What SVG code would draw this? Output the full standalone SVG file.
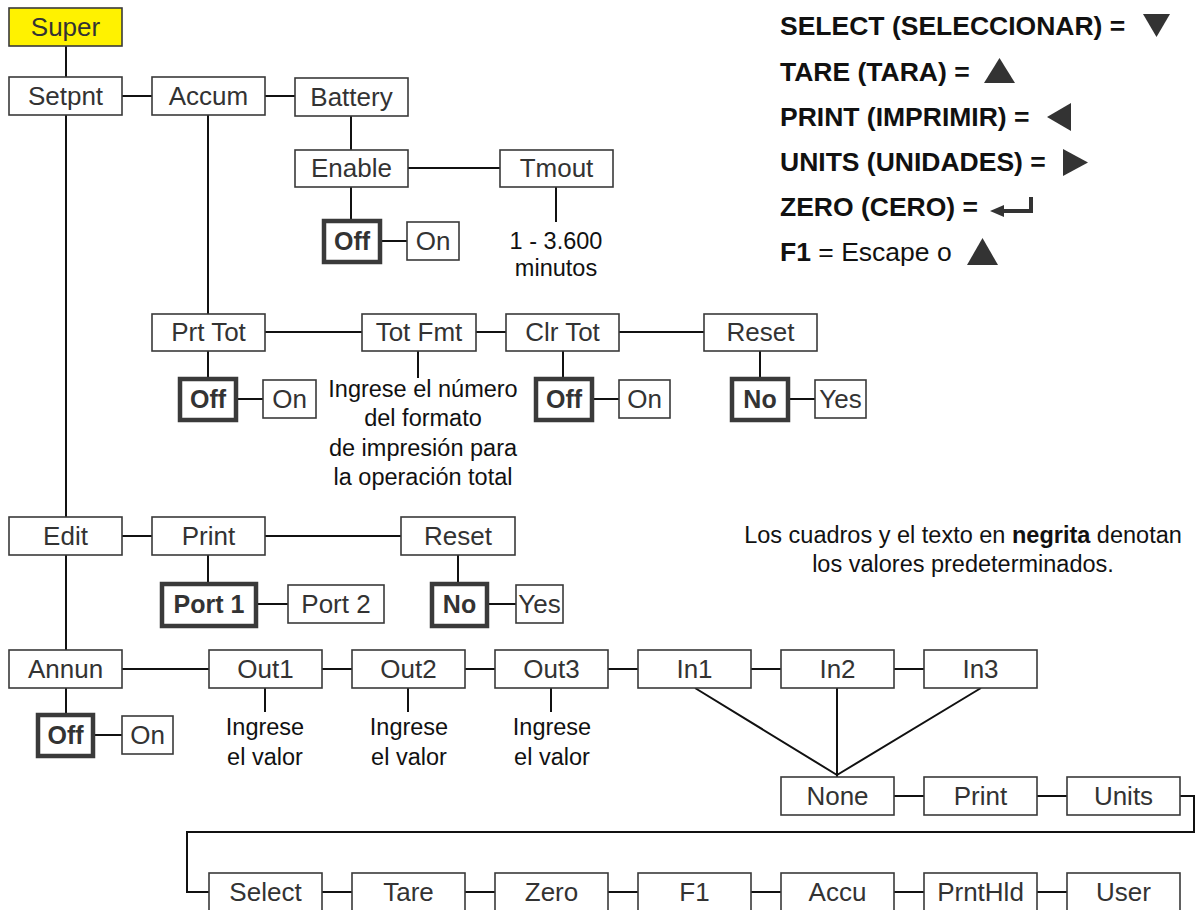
<svg xmlns="http://www.w3.org/2000/svg" width="1200" height="910" viewBox="0 0 1200 910">
<style>
.b{fill:#fff;stroke:#3a3a3a;stroke-width:1.6}
.d{fill:#fff;stroke:#3a3a3a;stroke-width:4.5}
.y{fill:#fff200;stroke:#3a3a3a;stroke-width:1.6}
.t{font-family:"Liberation Sans",Arial,sans-serif;font-size:26px;fill:#333;text-anchor:middle}
.tb{font-family:"Liberation Sans",Arial,sans-serif;font-size:25px;font-weight:bold;fill:#333;text-anchor:middle}
.a{font-family:"Liberation Sans",Arial,sans-serif;font-size:23.5px;fill:#111;text-anchor:middle}
.l{font-family:"Liberation Sans",Arial,sans-serif;font-size:26.5px;fill:#111;font-weight:bold}
.n{font-family:"Liberation Sans",Arial,sans-serif;font-size:23.5px;fill:#111;text-anchor:middle}
.c{fill:none;stroke:#111;stroke-width:2}
.k{fill:#333}
</style>
<g id="connectors" class="c">
<path d="M66 46V77M122 96H152M265 96H295M66 115V650"/>
<path d="M208 115V314M351 116V150M408 168H500M351 187V220M380 241H407M556 187V222"/>
<path d="M265 332H362M476 332H506M619 332H704M208 351V378M236 399H263M418 351V378M563 351V378M592 399H619M760 351V378M788 399H815"/>
<path d="M122 536H152M265 536H401M208 555V583M256 604H288M458 555V583M487 604H516"/>
<path d="M122 669H209M322 669H352M465 669H495M608 669H638M751 669H781M894 669H924M66 688V714M93 735H122M265 688V712M408 688V712M551 688V712"/>
<path d="M695 688L837 775M837 688V777M981 688L837 775M894 796H924M1037 796H1067M1180 796H1194V832H187V892H209"/>
<path d="M322 892H352M465 892H495M608 892H638M751 892H781M894 892H924M1037 892H1067"/>
</g>
<g id="super"><rect class="y" x="9" y="8" width="113" height="38"/><text class="t" x="65.5" y="36">Super</text></g>
<g id="setpnt"><rect class="b" x="9" y="77" width="113" height="38"/><text class="t" x="65.5" y="105">Setpnt</text></g>
<g id="accum"><rect class="b" x="152" y="77" width="113" height="38"/><text class="t" x="208.5" y="105">Accum</text></g>
<g id="battery"><rect class="b" x="295" y="78" width="113" height="38"/><text class="t" x="351.5" y="106">Battery</text></g>
<g id="enable"><rect class="b" x="295" y="150" width="113" height="37"/><text class="t" x="351.5" y="177">Enable</text></g>
<g id="tmout"><rect class="b" x="500" y="150" width="113" height="37"/><text class="t" x="556.5" y="177">Tmout</text></g>
<g id="en-off"><rect class="d" x="324" y="221" width="56" height="41"/><text class="tb" x="352" y="250">Off</text></g>
<g id="en-on"><rect class="b" x="407" y="222" width="52" height="38"/><text class="t" x="433" y="250">On</text></g>
<g id="tmout-val"><text class="a" x="556" y="249">1 - 3.600</text><text class="a" x="556" y="276">minutos</text></g>
<g id="prttot"><rect class="b" x="152" y="314" width="113" height="37"/><text class="t" x="208.5" y="341">Prt Tot</text></g>
<g id="totfmt"><rect class="b" x="362" y="314" width="114" height="37"/><text class="t" x="419" y="341">Tot Fmt</text></g>
<g id="clrtot"><rect class="b" x="506" y="314" width="113" height="37"/><text class="t" x="562.5" y="341">Clr Tot</text></g>
<g id="reset1"><rect class="b" x="704" y="314" width="113" height="37"/><text class="t" x="760.5" y="341">Reset</text></g>
<g id="pt-off"><rect class="d" x="180" y="379" width="56" height="41"/><text class="tb" x="208" y="408">Off</text></g>
<g id="pt-on"><rect class="b" x="263" y="380" width="53" height="38"/><text class="t" x="289.5" y="408">On</text></g>
<g id="totfmt-val"><text class="a" x="423" y="397">Ingrese el número</text><text class="a" x="423" y="426">del formato</text><text class="a" x="423" y="456">de impresión para</text><text class="a" x="423" y="485">la operación total</text></g>
<g id="ct-off"><rect class="d" x="536" y="379" width="56" height="41"/><text class="tb" x="564" y="408">Off</text></g>
<g id="ct-on"><rect class="b" x="619" y="380" width="51" height="38"/><text class="t" x="644.5" y="408">On</text></g>
<g id="r1-no"><rect class="d" x="732" y="379" width="56" height="41"/><text class="tb" x="760" y="408">No</text></g>
<g id="r1-yes"><rect class="b" x="815" y="380" width="51" height="38"/><text class="t" x="840.5" y="408">Yes</text></g>
<g id="edit"><rect class="b" x="9" y="517" width="113" height="38"/><text class="t" x="65.5" y="545">Edit</text></g>
<g id="print1"><rect class="b" x="152" y="517" width="113" height="38"/><text class="t" x="208.5" y="545">Print</text></g>
<g id="reset2"><rect class="b" x="401" y="517" width="114" height="38"/><text class="t" x="458" y="545">Reset</text></g>
<g id="port1"><rect class="d" x="162" y="584" width="94" height="42"/><text class="tb" x="209" y="613">Port 1</text></g>
<g id="port2"><rect class="b" x="288" y="585" width="96" height="38"/><text class="t" x="336" y="613">Port 2</text></g>
<g id="r2-no"><rect class="d" x="432" y="584" width="55" height="42"/><text class="tb" x="459.5" y="613">No</text></g>
<g id="r2-yes"><rect class="b" x="516" y="585" width="47" height="38"/><text class="t" x="539.5" y="613">Yes</text></g>
<g id="note"><text class="n" x="963" y="543">Los cuadros y el texto en <tspan font-weight="bold">negrita</tspan> denotan</text><text class="n" x="963" y="572">los valores predeterminados.</text></g>
<g id="annun"><rect class="b" x="9" y="650" width="113" height="38"/><text class="t" x="65.5" y="678">Annun</text></g>
<g id="out1"><rect class="b" x="209" y="650" width="113" height="38"/><text class="t" x="265.5" y="678">Out1</text></g>
<g id="out2"><rect class="b" x="352" y="650" width="113" height="38"/><text class="t" x="408.5" y="678">Out2</text></g>
<g id="out3"><rect class="b" x="495" y="650" width="113" height="38"/><text class="t" x="551.5" y="678">Out3</text></g>
<g id="in1"><rect class="b" x="638" y="650" width="113" height="38"/><text class="t" x="694.5" y="678">In1</text></g>
<g id="in2"><rect class="b" x="781" y="650" width="113" height="38"/><text class="t" x="837.5" y="678">In2</text></g>
<g id="in3"><rect class="b" x="924" y="650" width="113" height="38"/><text class="t" x="980.5" y="678">In3</text></g>
<g id="an-off"><rect class="d" x="38" y="715" width="55" height="41"/><text class="tb" x="65.5" y="744">Off</text></g>
<g id="an-on"><rect class="b" x="122" y="716" width="51" height="38"/><text class="t" x="147.5" y="744">On</text></g>
<g id="out1-val"><text class="a" x="265" y="735">Ingrese</text><text class="a" x="265" y="765">el valor</text></g>
<g id="out2-val"><text class="a" x="409" y="735">Ingrese</text><text class="a" x="409" y="765">el valor</text></g>
<g id="out3-val"><text class="a" x="552" y="735">Ingrese</text><text class="a" x="552" y="765">el valor</text></g>
<g id="none"><rect class="b" x="781" y="777" width="113" height="38"/><text class="t" x="837.5" y="805">None</text></g>
<g id="print2"><rect class="b" x="924" y="777" width="113" height="38"/><text class="t" x="980.5" y="805">Print</text></g>
<g id="units"><rect class="b" x="1067" y="777" width="113" height="38"/><text class="t" x="1123.5" y="805">Units</text></g>
<g id="select"><rect class="b" x="209" y="873" width="113" height="40"/><text class="t" x="265.5" y="901">Select</text></g>
<g id="tare"><rect class="b" x="352" y="873" width="113" height="40"/><text class="t" x="408.5" y="901">Tare</text></g>
<g id="zero"><rect class="b" x="495" y="873" width="113" height="40"/><text class="t" x="551.5" y="901">Zero</text></g>
<g id="f1"><rect class="b" x="638" y="873" width="113" height="40"/><text class="t" x="694.5" y="901">F1</text></g>
<g id="accu"><rect class="b" x="781" y="873" width="113" height="40"/><text class="t" x="837.5" y="901">Accu</text></g>
<g id="prnthld"><rect class="b" x="924" y="873" width="113" height="40"/><text class="t" x="980.5" y="901">PrntHld</text></g>
<g id="user"><rect class="b" x="1067" y="873" width="113" height="40"/><text class="t" x="1123.5" y="901">User</text></g>
<g id="legend">
<text class="l" x="780" y="35">SELECT (SELECCIONAR) =</text>
<polygon class="k" points="1143,14 1170,14 1156.5,37"/>
<text class="l" x="780" y="81">TARE (TARA) =</text>
<polygon class="k" points="984,83 1015,83 999.5,58"/>
<text class="l" x="780" y="126">PRINT (IMPRIMIR) =</text>
<polygon class="k" points="1047,117 1071,103 1071,131"/>
<text class="l" x="780" y="171">UNITS (UNIDADES) =</text>
<polygon class="k" points="1063,149 1088,162.5 1063,176"/>
<text class="l" x="780" y="216">ZERO (CERO) =</text>
<path d="M1031 197V211H1000" fill="none" stroke="#333" stroke-width="4"/>
<polygon class="k" points="990,211 1004,205 1004,217"/>
<text class="l" x="780" y="261">F1<tspan font-weight="normal"> = Escape o</tspan></text>
<polygon class="k" points="967,265 998,265 982.5,238"/>
</g>
</svg>
